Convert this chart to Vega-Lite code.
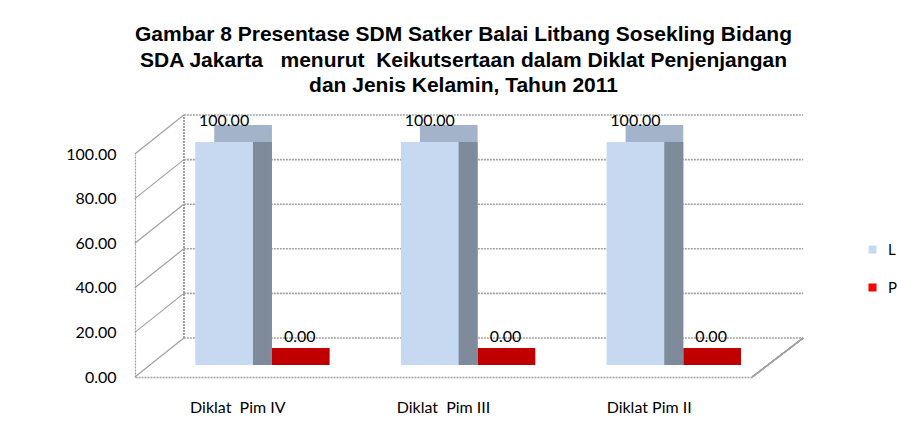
{
  "$schema": "https://vega.github.io/schema/vega-lite/v6.json",
  "autosize": "none",
  "width": 617,
  "height": 223,
  "padding": {"left": 135, "top": 154, "right": 145, "bottom": 56},
  "background": "white",
  "config": {"view": {"stroke": null}},
  "title": {
    "text": ["Gambar 8 Presentase SDM Satker Balai Litbang Sosekling Bidang", "SDA Jakarta \u00a0 menurut \u00a0Keikutsertaan dalam Diklat Penjenjangan", "dan Jenis Kelamin, Tahun 2011"],
    "font": "Liberation Sans",
    "fontSize": 21,
    "fontWeight": "bold",
    "color": "#000000",
    "lineHeight": 25.5,
    "anchor": "middle",
    "frame": "group",
    "dx": 20,
    "offset": 17
  },
  "datasets": {
    "bars": [
      {"cat": "Diklat \u00a0Pim IV", "series": "L", "value": 100},
      {"cat": "Diklat \u00a0Pim IV", "series": "P", "value": 0},
      {"cat": "Diklat \u00a0Pim III", "series": "L", "value": 100},
      {"cat": "Diklat \u00a0Pim III", "series": "P", "value": 0},
      {"cat": "Diklat Pim II", "series": "L", "value": 100},
      {"cat": "Diklat Pim II", "series": "P", "value": 0}
    ],
    "ticks": [{"t": 0}, {"t": 20}, {"t": 40}, {"t": 60}, {"t": 80}, {"t": 100}]
  },
  "layer": [
    {
      "data": {"name": "ticks"},
      "mark": {"type": "rule", "stroke": "#a0a0a0", "strokeWidth": 1.6, "strokeDash": [2, 1], "xOffset": -54, "x2Offset": 154, "yOffset": -39, "y2Offset": -39},
      "encoding": {
        "x": {"datum": "Diklat \u00a0Pim IV", "type": "nominal"},
        "x2": {"datum": "Diklat Pim II"},
        "y": {"field": "t", "type": "quantitative"},
        "y2": {"field": "t"}
      }
    },
    {
      "data": {"name": "ticks"},
      "mark": {"type": "rule", "stroke": "#a0a0a0", "strokeWidth": 1.2, "xOffset": -103, "x2Offset": -54, "yOffset": 0, "y2Offset": -39},
      "encoding": {
        "x": {"datum": "Diklat \u00a0Pim IV", "type": "nominal"},
        "x2": {"datum": "Diklat \u00a0Pim IV"},
        "y": {"field": "t", "type": "quantitative"},
        "y2": {"field": "t"}
      }
    },
    {
      "data": {"name": "ticks"},
      "mark": {"type": "rule", "stroke": "#a0a0a0", "strokeWidth": 1.2, "strokeDash": [2, 1], "xOffset": -54, "yOffset": -39, "y2Offset": -39},
      "encoding": {
        "x": {"datum": "Diklat \u00a0Pim IV", "type": "nominal"},
        "y": {"datum": 0, "type": "quantitative"},
        "y2": {"datum": 100}
      }
    },
    {
      "data": {"name": "ticks"},
      "mark": {"type": "rule", "stroke": "#a0a0a0", "strokeWidth": 1.2, "xOffset": 103, "x2Offset": 154, "yOffset": 0, "y2Offset": -39},
      "encoding": {
        "x": {"datum": "Diklat Pim II", "type": "nominal"},
        "x2": {"datum": "Diklat Pim II"},
        "y": {"datum": 0, "type": "quantitative"},
        "y2": {"datum": 0}
      }
    },
    {
      "data": {"name": "bars"},
      "mark": {"type": "bar", "yOffset": -29, "y2Offset": -12},
      "encoding": {
        "x": {"field": "cat", "type": "nominal"},
        "xOffset": {"field": "series", "type": "nominal", "scale": {"domain": ["L", "P"], "range": [34, 149.4]}},
        "y": {"field": "value", "type": "quantitative"},
        "y2": {"datum": 0},
        "color": {"condition": {"test": "datum.series === 'P'", "value": "#C00000"}, "value": "#A3B3C9"}
      }
    },
    {
      "data": {"name": "bars"},
      "mark": {"type": "bar", "yOffset": -12, "y2Offset": -12, "color": "#7F8A9B"},
      "encoding": {
        "x": {"field": "cat", "type": "nominal"},
        "xOffset": {"field": "series", "type": "nominal", "scale": {"domain": ["L", "P"], "range": [34, 149.4]}},
        "y": {"field": "value", "type": "quantitative"},
        "y2": {"datum": 0}
      }
    },
    {
      "data": {"name": "bars"},
      "mark": {"type": "bar", "yOffset": -12, "y2Offset": -12},
      "encoding": {
        "x": {"field": "cat", "type": "nominal"},
        "xOffset": {"field": "series", "type": "nominal", "scale": {"domain": ["L", "P"], "range": [15, 130.4]}},
        "y": {"field": "value", "type": "quantitative"},
        "y2": {"datum": 0},
        "color": {
          "field": "series", "type": "nominal",
          "scale": {"domain": ["L", "P"], "range": ["#C6D9F0", "#FF0000"]},
          "legend": {
            "title": null, "orient": "none", "legendX": 730, "legendY": 88,
            "symbolType": "square", "symbolSize": 64, "symbolStrokeWidth": 0,
            "labelFont": "Lato", "labelFontSize": 15, "labelColor": "#000000",
            "rowPadding": 22, "labelOffset": 8, "padding": 0
          }
        }
      }
    },
    {
      "data": {"name": "bars"},
      "transform": [{"filter": "datum.series === 'L'"}],
      "mark": {"type": "text", "font": "Lato", "fontSize": 16, "color": "#000000", "dy": -33, "baseline": "middle"},
      "encoding": {
        "x": {"field": "cat", "type": "nominal"},
        "xOffset": {"field": "series", "type": "nominal", "scale": {"domain": ["L", "P"], "range": [15, 130.4]}},
        "y": {"field": "value", "type": "quantitative"},
        "text": {"field": "value", "type": "quantitative", "format": ".2f"}
      }
    },
    {
      "data": {"name": "bars"},
      "transform": [{"filter": "datum.series === 'P'"}],
      "mark": {"type": "text", "font": "Lato", "fontSize": 16, "color": "#000000", "dy": -40, "baseline": "middle"},
      "encoding": {
        "x": {"field": "cat", "type": "nominal"},
        "xOffset": {"field": "series", "type": "nominal", "scale": {"domain": ["L", "P"], "range": [33, 148.4]}},
        "y": {"field": "value", "type": "quantitative"},
        "text": {"field": "value", "type": "quantitative", "format": ".2f"}
      }
    }
  ],
  "resolve": {"scale": {"x": "shared", "y": "shared", "xOffset": "independent"}},
  "encoding": {
    "x": {
      "field": "cat", "type": "nominal", "sort": null,
      "scale": {"domain": ["Diklat \u00a0Pim IV", "Diklat \u00a0Pim III", "Diklat Pim II"], "paddingInner": 0.44, "paddingOuter": 0.22},
      "axis": {"title": null, "labelAngle": 0, "ticks": false, "labelPadding": 22, "labelFont": "Lato", "labelFontSize": 16, "labelColor": "#000000", "domainColor": "#a0a0a0", "domainDash": [2, 1], "domainWidth": 1.5, "grid": false}
    },
    "y": {
      "type": "quantitative",
      "scale": {"domain": [0, 100], "nice": false},
      "axis": {"title": null, "values": [0, 20, 40, 60, 80, 100], "format": ".2f", "ticks": false, "labelPadding": 19, "labelFont": "Lato", "labelFontSize": 16, "labelColor": "#000000", "domainColor": "#a0a0a0", "domainDash": [2, 1], "domainWidth": 1.2, "grid": false}
    }
  }
}
